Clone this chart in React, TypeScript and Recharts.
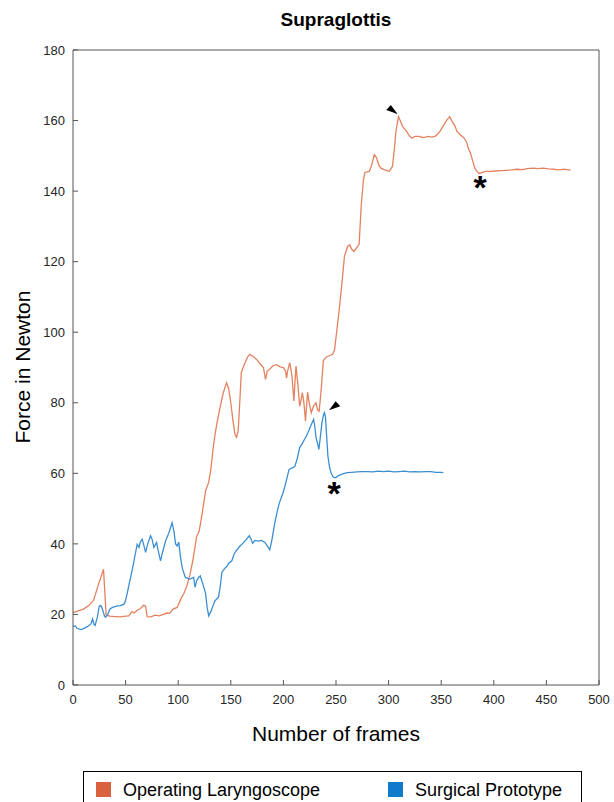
import { LineChart, Line, XAxis, YAxis, ReferenceDot } from "recharts";

const LARYNGOSCOPE_COLOR = "#E3825F";
const PROTOTYPE_COLOR = "#3C8ED2";
const LARYNGOSCOPE_SWATCH = "#D9613E";
const PROTOTYPE_SWATCH = "#0E7BCB";
const AXIS_COLOR = "#555555";
const TEXT_COLOR = "#262626";
const FONT = "'Liberation Sans', Arial, sans-serif";

const title = "Supraglottis";
const xLabel = "Number of frames";
const yLabel = "Force in Newton";
const seriesNames = ["Operating Laryngoscope", "Surgical Prototype"];

const xTicks = [0, 50, 100, 150, 200, 250, 300, 350, 400, 450, 500];
const yTicks = [0, 20, 40, 60, 80, 100, 120, 140, 160, 180];

const laryngoscopeFrames = [
  0, 5, 10, 15, 19.5, 24, 27, 29, 30.5, 31.5, 35, 40, 45, 50, 53, 56, 58, 61, 64, 67, 69, 70.5, 74, 78, 82,
  86, 89, 92, 95, 99, 103, 105.5, 108, 111, 114, 117.5, 120, 123, 126, 129, 131, 133, 135, 137, 140, 143, 146,
  148, 150, 152, 154, 155.5, 157, 158.5, 160, 163, 166, 168, 171, 174.5, 178, 181, 183, 184.6, 187, 190,
  193.5, 197, 200, 202, 203, 204, 206, 208, 210, 211, 212, 213.5, 215.5, 217, 218, 219.5, 221, 222, 223,
  224.5, 226.5, 228.5, 231, 232.5, 234, 236, 238, 241, 244, 246.7, 248.6, 251, 253.3, 256, 258, 261, 263,
  265, 267, 270.6, 272, 274, 276, 277.5, 281.7, 284, 286.4, 288.5, 290.5, 292.7, 296, 300.6, 303.7, 305.5,
  307, 309.4, 311, 313, 314.7, 317, 319, 322, 325, 329, 332, 335, 338, 341, 344, 346, 349, 352, 355, 358,
  360, 363, 365, 368, 371, 374, 376, 377.8, 380, 382, 384, 386, 388, 392, 397, 402, 407, 412, 417, 422,
  427, 432, 437.6, 442, 447, 452, 457, 461, 464, 467, 470, 473,
];
const laryngoscopeForce = [
  20.5, 21, 21.5, 22.5, 24, 28.3, 31, 32.8, 25, 19.8, 19.5, 19.4, 19.3, 19.5, 19.6, 20.8, 20.4, 21.2, 21.6,
  22.6, 22.4, 19.4, 19.3, 19.8, 19.6, 20, 20.4, 20.3, 21.5, 22, 24.7, 26, 27.9, 31, 35.4, 42, 43.7, 49, 55,
  57.5, 61, 66.5, 71, 74.5, 79, 83, 85.7, 84, 80, 75, 71, 70.2, 72, 80, 88.6, 91, 93, 93.7, 93.2, 92.3, 91, 90,
  86.6, 89, 89.5, 90.5, 90.8, 90.2, 90, 89, 87, 89, 91.4, 88, 80.5, 86, 90.4, 86, 79, 81, 82.9, 80, 74.8, 79,
  83, 80, 77.2, 79, 80, 78, 77.6, 84, 92, 93, 93.4, 93.7, 95, 101, 107, 115, 121.5, 124.3, 124.8, 123.5,
  122.9, 124.3, 125, 136, 143, 145.3, 145.6, 147.5, 150.3, 149.5, 147.5, 146.5, 146, 145.6, 147, 152, 157,
  161.1, 160, 158.5, 157.8, 157, 156, 155, 155.5, 155.5, 155.2, 155.3, 155.5, 155.3, 155.5, 156, 157, 158.5,
  160, 161.1, 160, 158.5, 156.9, 156, 155.3, 154, 152, 150.8, 148.5, 146.5, 145.6, 145, 145.2, 145.6, 145.6,
  145.7, 145.8, 145.9, 146, 146.2, 146.1, 146.4, 146.5, 146.4, 146.5, 146.3, 146.2, 146, 146.1, 146.2, 146,
  146,
];

const prototypeFrames = [
  0, 2, 4, 7.6, 10, 14, 17, 18.6, 20, 21, 23, 25, 26.5, 28, 30, 31, 33, 35, 37.5, 40, 42, 45, 48.5, 50, 51.7,
  54, 56.4, 58.5, 61, 62.7, 64, 65.8, 67, 69, 71, 73.7, 75, 76.9, 79.4, 81, 83.2, 85, 88, 91, 94.2, 96, 97.5,
  99, 100.5, 102, 104, 106.8, 109, 111.5, 113, 114.7, 116, 117.5, 119.4, 121, 122.5, 124, 126, 127.5, 129,
  131, 133.6, 135, 138.3, 140, 141.5, 144, 146, 148, 151, 153, 155, 158.8, 161, 164, 167.6, 169, 170.8, 173,
  176, 179, 182.4, 184.5, 187, 189, 191.9, 194, 196, 199.7, 202, 205.4, 208, 210.8, 213, 215.5, 218, 221.8,
  224, 226, 228.7, 230, 231, 232.5, 233.7, 235, 236.5, 238, 239, 240, 241, 242.3, 244, 245.5, 247, 248.5,
  250, 252, 255, 258, 261, 265, 270, 275, 280, 285, 290, 295, 300, 305, 310, 315, 320, 325, 330, 335, 340,
  345, 350, 352,
];
const prototypeForce = [
  16.5, 16.8, 16, 15.7, 16, 16.6, 17.3, 18.7, 17.2, 16.9, 19, 22.4, 22.5, 21.5, 19.5, 19.2, 20, 21.5, 22,
  22.2, 22.4, 22.5, 22.9, 24, 26.2, 29.5, 32.8, 36, 39.9, 39, 40.5, 41.3, 40, 37.6, 40, 42.3, 41.5, 39, 40.4,
  38, 35.2, 37.5, 40.8, 43, 46, 43.5, 40, 39.4, 40.5, 36.6, 33, 30.5, 30.2, 30, 30.3, 30.5, 27.7, 29.5, 30.5,
  30.9, 29.5, 28.1, 26, 22, 19.6, 20.8, 22.9, 23.9, 24.9, 28, 31.9, 33, 33.5, 34.5, 35.2, 37, 38, 39.4, 40,
  41, 42.3, 41.5, 40.2, 41, 40.8, 41, 40.4, 39.5, 38.3, 41, 46, 49, 51.5, 54.5, 57, 61.1, 61.5, 61.9, 64,
  67.3, 68.5, 70.6, 72, 73.5, 75.3, 73, 70.1, 68.5, 66.8, 70, 74, 76.5, 77.2, 76, 71, 64.9, 61.5, 60, 59.1,
  58.8, 58.8, 59.3, 59.7, 60, 60.2, 60.3, 60.4, 60.5, 60.5, 60.4, 60.6, 60.5, 60.6, 60.4, 60.5, 60.6, 60.4,
  60.5, 60.4, 60.5, 60.5, 60.3, 60.3, 60.2,
];

// peak arrows (1 = pointing down-right, -1 = down-left) and settle asterisks
const arrowFrames = [302.8, 249];
const arrowForces = [163.1, 79.1];
const arrowDirs = [1, -1];
const asteriskFrames = [386.9, 248.1];
const asteriskForces = [142, 55.3];

const laryngoscopeData = laryngoscopeFrames.map((frame, i) => ({ frame, force: laryngoscopeForce[i] }));
const prototypeData = prototypeFrames.map((frame, i) => ({ frame, force: prototypeForce[i] }));

const tickStyle = { fontSize: 13, fill: TEXT_COLOR, fontFamily: FONT };

function arrowShape(dir: number) {
  return (props: any) => {
    const { cx, cy } = props;
    const pts = [
      [cx + dir * 6, cy + 4.3],
      [cx - dir * 5.3, cy + 0.3],
      [cx - dir * 0.7, cy - 4.7],
    ];
    return <polygon points={pts.map((p) => p.join(",")).join(" ")} fill="#000" />;
  };
}

function asteriskShape(props: any) {
  const { cx, cy } = props;
  return (
    <text
      x={cx}
      y={cy + 15}
      textAnchor="middle"
      fontSize={34}
      fontWeight="bold"
      fontFamily={FONT}
      fill="#000"
    >
      *
    </text>
  );
}

export default function App() {
  return (
    <div
      style={{
        position: "absolute",
        left: 0,
        top: 0,
        width: 614,
        height: 802,
        overflow: "hidden",
        background: "#fff",
      }}
    >
      <LineChart width={614} height={802} margin={{ top: 49, right: 14, bottom: 87, left: 23 }}>
        <XAxis
          xAxisId="bottom"
          dataKey="frame"
          type="number"
          domain={[0, 500]}
          ticks={xTicks}
          interval={0}
          height={30}
          tickSize={-5}
          tickMargin={15}
          stroke={AXIS_COLOR}
          tick={tickStyle}
        />
        <XAxis
          xAxisId="top"
          orientation="top"
          type="number"
          domain={[0, 500]}
          ticks={xTicks}
          interval={0}
          height={1}
          tickSize={-5}
          stroke={AXIS_COLOR}
          tick={false}
        />
        <YAxis
          yAxisId="left"
          type="number"
          domain={[0, 180]}
          ticks={yTicks}
          interval={0}
          width={50}
          tickSize={-5}
          tickMargin={13}
          stroke={AXIS_COLOR}
          tick={tickStyle}
        />
        <YAxis
          yAxisId="right"
          orientation="right"
          type="number"
          domain={[0, 180]}
          ticks={yTicks}
          interval={0}
          width={1}
          tickSize={-5}
          stroke={AXIS_COLOR}
          tick={false}
        />
        <Line
          xAxisId="bottom"
          yAxisId="left"
          data={laryngoscopeData}
          dataKey="force"
          name={seriesNames[0]}
          type="linear"
          stroke={LARYNGOSCOPE_COLOR}
          strokeWidth={1.3}
          dot={false}
          isAnimationActive={false}
        />
        <Line
          xAxisId="bottom"
          yAxisId="left"
          data={prototypeData}
          dataKey="force"
          name={seriesNames[1]}
          type="linear"
          stroke={PROTOTYPE_COLOR}
          strokeWidth={1.3}
          dot={false}
          isAnimationActive={false}
        />
        {arrowFrames.map((f, i) => (
          <ReferenceDot
            key={"arrow" + i}
            xAxisId="bottom"
            yAxisId="left"
            x={f}
            y={arrowForces[i]}
            shape={arrowShape(arrowDirs[i])}
          />
        ))}
        {asteriskFrames.map((f, i) => (
          <ReferenceDot
            key={"ast" + i}
            xAxisId="bottom"
            yAxisId="left"
            x={f}
            y={asteriskForces[i]}
            shape={asteriskShape}
          />
        ))}
      </LineChart>
      <svg
        width={614}
        height={802}
        style={{ position: "absolute", left: 0, top: 0, pointerEvents: "none" }}
        fontFamily={FONT}
      >
        <text x={336} y={26} textAnchor="middle" fontSize={19} fontWeight="bold" fill="#000">
          {title}
        </text>
        <text x={336} y={741} textAnchor="middle" fontSize={21} fill="#000">
          {xLabel}
        </text>
        <text x={30} y={367} textAnchor="middle" fontSize={21} fill="#000" transform="rotate(-90 30 367)">
          {yLabel}
        </text>
        <rect x={83.5} y={771.5} width={498} height={60} fill="#fff" stroke="#000" strokeWidth={1} />
        <rect x={96} y={782} width={15} height={15} fill={LARYNGOSCOPE_SWATCH} />
        <text x={123} y={796} fontSize={18} fill="#000">
          {seriesNames[0]}
        </text>
        <rect x={388} y={782} width={15} height={15} fill={PROTOTYPE_SWATCH} />
        <text x={415} y={796} fontSize={18} fill="#000">
          {seriesNames[1]}
        </text>
      </svg>
    </div>
  );
}
